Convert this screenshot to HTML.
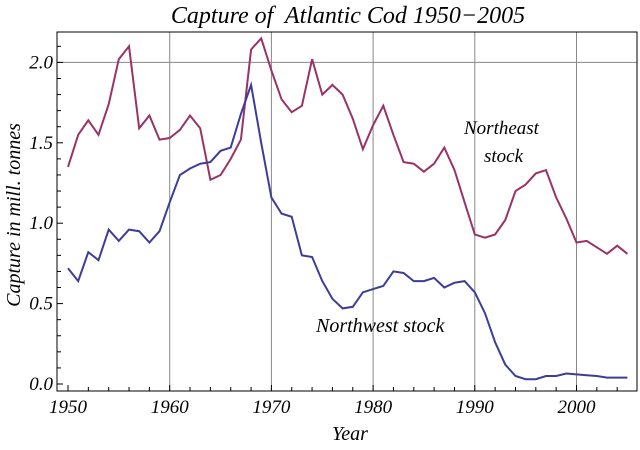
<!DOCTYPE html>
<html><head><meta charset="utf-8"><style>
html,body{margin:0;padding:0;background:#fff}
svg text{font-family:"Liberation Serif",serif;font-style:italic}
</style></head><body>
<svg id="s" width="640" height="445" xmlns="http://www.w3.org/2000/svg">
<text x="348" y="23" font-size="24" text-anchor="middle" xml:space="preserve">Capture of  Atlantic Cod 1950−2005</text>
<g id="grid" stroke="#888" stroke-width="1"></g>
<rect x="57" y="32" width="580" height="359" fill="none" stroke="#000" stroke-width="1"/>
<g id="ticks" stroke="#000" stroke-width="1"></g>
<g id="labels" font-size="19"></g>
<polyline id="ne" fill="none" stroke="#993366" stroke-width="2"/>
<polyline id="nw" fill="none" stroke="#3d3d99" stroke-width="2"/>
<text x="464" y="134" font-size="19">Northeast</text>
<text x="484" y="162" font-size="19">stock</text>
<text x="316" y="332" font-size="20">Northwest stock</text>
<text x="350" y="440" font-size="20" text-anchor="middle">Year</text>
<text transform="translate(20,215) rotate(-90)" font-size="20" text-anchor="middle">Capture in mill. tonnes</text>
</svg>
<script>
var X=function(y){return 68+(y-1950)*10.17},Y=function(v){return 384-v*160.8};
var ne=[1.35,1.55,1.64,1.55,1.74,2.02,2.10,1.59,1.67,1.52,1.53,1.58,1.67,1.59,1.27,1.30,1.40,1.52,2.08,2.15,1.95,1.77,1.69,1.73,2.02,1.80,1.86,1.80,1.65,1.46,1.61,1.73,1.55,1.38,1.37,1.32,1.37,1.47,1.33,1.13,0.93,0.91,0.93,1.02,1.20,1.24,1.31,1.33,1.16,1.03,0.88,0.89,0.85,0.81,0.86,0.81];
var nw=[0.72,0.64,0.82,0.77,0.96,0.89,0.96,0.95,0.88,0.95,1.13,1.30,1.34,1.37,1.38,1.45,1.47,1.68,1.86,1.50,1.16,1.06,1.04,0.80,0.79,0.64,0.53,0.47,0.48,0.57,0.59,0.61,0.70,0.69,0.64,0.64,0.66,0.60,0.63,0.64,0.57,0.44,0.26,0.12,0.05,0.03,0.03,0.05,0.05,0.065,0.06,0.055,0.05,0.04,0.04,0.04];
function pts(a){return a.map(function(v,i){return X(1950+i).toFixed(1)+","+Y(v).toFixed(1)}).join(" ")}
document.getElementById("ne").setAttribute("points",pts(ne));
document.getElementById("nw").setAttribute("points",pts(nw));
var ns="http://www.w3.org/2000/svg",g=document.getElementById("grid"),t=document.getElementById("ticks"),l=document.getElementById("labels");
function ln(p,x1,y1,x2,y2){var e=document.createElementNS(ns,"line");e.setAttribute("x1",x1);e.setAttribute("y1",y1);e.setAttribute("x2",x2);e.setAttribute("y2",y2);p.appendChild(e)}
function tx(x,y,s,a){var e=document.createElementNS(ns,"text");e.setAttribute("x",x);e.setAttribute("y",y);e.setAttribute("text-anchor",a);e.textContent=s;l.appendChild(e)}
for(var yr=1960;yr<=2000;yr+=10){ln(g,X(yr),32,X(yr),391)}
ln(g,57,Y(2),637,Y(2));
for(var yr=1950;yr<=2005;yr+=2){var m=yr%10==0;ln(t,X(yr),391,X(yr),391-(m?6:4))}
for(var yr=1950;yr<=2000;yr+=10){tx(X(yr),413,""+yr,"middle")}
for(var i=0;i<=21;i++){var v=i/10,m=i%5==0;ln(t,57,Y(v),57+(m?6:4),Y(v))}
for(var i=0;i<=4;i++){tx(53,Y(i*0.5)+6,(i*0.5).toFixed(1),"end")}
</script>
</body></html>
